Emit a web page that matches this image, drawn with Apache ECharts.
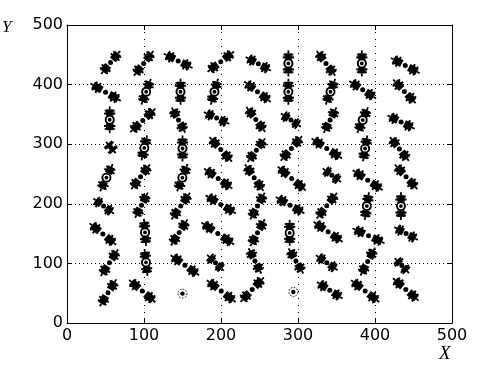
<!DOCTYPE html>
<html>
<head>
<meta charset="utf-8">
<script src="https://cdn.jsdelivr.net/npm/echarts@6/dist/echarts.min.js"></script>
<style>html,body{margin:0;padding:0;background:#fff}#c{width:498px;height:370px}</style>
</head>
<body>
<div id="c"></div>
<script>
// glyph centres (data units), row by row from top
const centerX = [
  56.6, 99.5, 144.4, 199.7, 248.5, 287.5, 336.3, 382.9, 439.3,
  50.1, 102.8, 147.4, 191.5, 247.4, 287.5, 342.2, 384.0, 438.2,
  55.5, 98.4, 144.8, 194.3, 245.2, 290.8, 341.7, 384.0, 433.9,
  57.0, 100.4, 150.0, 199.7, 245.9, 291.4, 337.4, 387.2, 431.7,
  51.2, 95.6, 149.8, 196.4, 243.1, 291.8, 343.9, 390.5, 440.4,
  47.5, 96.7, 147.7, 199.7, 247.4, 289.7, 337.4, 389.4, 433.7,
  46.6, 101.3, 145.7, 195.8, 247.4, 289.2, 339.1, 391.6, 440.4,
  55.1, 102.6, 153.1, 192.8, 244.1, 297.3, 337.4, 390.5, 434.9,
  53.3, 97.8, 150.0, 200.3, 240.5, 294.0, 341.3, 387.2, 440.0
];
const centerY = [
  437.0, 435.6, 439.8, 438.4, 434.8, 435.6, 435.6, 435.6, 432.0,
  387.2, 388.0, 388.0, 388.0, 388.0, 388.0, 388.0, 391.4, 388.6,
  341.0, 339.9, 340.4, 343.8, 341.5, 340.4, 340.4, 340.4, 337.1,
  294.5, 293.7, 292.8, 291.2, 290.0, 292.8, 292.8, 292.8, 292.0,
  243.8, 245.2, 243.8, 242.4, 243.8, 242.4, 248.0, 239.6, 245.2,
  196.2, 197.6, 196.2, 199.0, 196.2, 197.6, 196.8, 196.2, 196.2,
  149.2, 152.0, 152.0, 150.1, 151.5, 151.2, 152.9, 146.4, 150.1,
  101.1, 101.6, 96.9, 101.1, 104.1, 104.1, 101.1, 103.0, 96.3,
  50.7, 53.5, 49.3, 53.5, 56.0, 52.1, 54.9, 53.5, 56.3
];
// half orientation vectors (data units)
const halfU = [
  9.8, 10.2, 15.2, 14.1, 13.0, 0, 9.8, 0, 15.2,
  16.3, 4.8, 0, 3.7, 14.1, 0, 4.8, 14.1, 11.9,
  0, 13.4, 6.9, 13.0, 9.8, 9.8, 6.5, 5.4, 14.1,
  3.7, 2.8, 0, 11.9, 9.1, 11.3, 16.5, 2.2, 9.8,
  6.5, 9.8, 5.4, 15.2, 9.8, 15.2, 8.7, 16.3, 11.9,
  10.2, 6.5, 9.8, 16.3, 7.6, 15.2, 10.8, 2.2, 0,
  14.1, -1.1, 8.7, 18.0, 7.6, 0, 15.6, 17.3, 11.9,
  9.1, -1.5, 15.2, 8.0, 6.5, 7.6, 10.8, 7.6, 6.5,
  8.7, 14.1, 0, 15.6, 12.4, 0, 13.4, 15.2, 13.7
];
const halfV = [
  15.4, 16.8, -9.8, 14.0, -9.2, 16.8, -16.8, 16.8, -10.4,
  -12.0, 16.8, 16.8, 16.8, -14.0, 16.8, 16.8, -11.8, -16.2,
  17.4, 16.2, -16.8, -7.8, -16.8, -8.4, 16.8, 16.8, -9.0,
  -5.6, 16.0, 16.8, -16.8, 15.7, 16.8, -14.0, 16.8, -16.0,
  18.2, 16.8, 18.2, -14.0, -18.2, -16.8, -8.4, -14.0, -16.8,
  -9.8, 16.8, 18.2, -12.6, 18.2, -11.2, 17.6, 18.2, 18.2,
  -14.8, 17.6, 17.6, -15.7, 18.2, 16.8, -14.0, -10.4, -8.4,
  18.2, 17.6, -14.0, -9.8, -16.8, -16.8, -9.8, 19.0, -9.0,
  18.2, -15.4, 0, -15.4, 16.8, 0, -11.2, -15.4, -15.4
];
const xTicks = [0, 100, 200, 300, 400, 500];
const yTicks = [0, 100, 200, 300, 400, 500];

const data = centerX.map((x, i) => [x, centerY[i], halfU[i], halfV[i]]);

function renderItem(params, api) {
  const cx = api.value(0), cy = api.value(1), hx = api.value(2), hy = api.value(3);
  const c = api.coord([cx, cy]);
  const p2 = api.coord([cx + hx, cy + hy]);
  const dx = p2[0] - c[0], dy = p2[1] - c[1];
  const h = Math.hypot(dx, dy);
  const ch = [];
  const blk = '#000';
  if (h < 1) {
    ch.push({type: 'circle', shape: {cx: c[0], cy: c[1], r: 4.5}, style: {fill: null, stroke: blk, lineWidth: 1, lineDash: [1.5, 1.5]}});
    ch.push({type: 'circle', shape: {cx: c[0], cy: c[1], r: 2.2}, style: {fill: blk}});
    return {type: 'group', children: ch};
  }
  const ux = dx / h, uy = dy / h, nx = -uy, ny = ux;
  const ring = Math.abs(ux) < 0.42;
  const w = ring ? 7.5 : 7.5;
  const P = (t, n) => [c[0] + ux * t + nx * n, c[1] + uy * t + ny * n];
  const seg = (a, b, lw) => ({type: 'line', shape: {x1: a[0], y1: a[1], x2: b[0], y2: b[1]}, style: {stroke: blk, lineWidth: lw, lineCap: 'butt'}});
  [1, -1].forEach(s => {
    const a = (ring ? 0.4 : 0.3) * h;
    ch.push(seg(P(s * a, 0), P(s * h, 0), w));
    ch.push(seg(P(s * h, 0), P(s * (h + 3), 0), 1.8));
    ch.push(seg(P(s * 0.6 * h, 5.6), P(s * 0.6 * h, -5.6), 2));
    ch.push(seg(P(s * 0.88 * h, 5), P(s * 0.88 * h, -5), 1.8));
  });
  if (ring) {
    ch.push({type: 'circle', shape: {cx: c[0], cy: c[1], r: 5}, style: {fill: blk}});
    ch.push({type: 'circle', shape: {cx: c[0], cy: c[1], r: 3.1}, style: {fill: '#fff'}});
    ch.push({type: 'circle', shape: {cx: c[0], cy: c[1], r: 1.9}, style: {fill: blk}});
  } else {
    ch.push({type: 'circle', shape: {cx: c[0], cy: c[1], r: 2.5}, style: {fill: blk}});
  }
  return {type: 'group', children: ch};
}

const labelStyle = {color: '#000', fontSize: 16, fontFamily: 'DejaVu Sans'};
const chart = echarts.init(document.getElementById('c'), null, {renderer: 'canvas'});
chart.setOption({
  animation: false,
  backgroundColor: '#fff',
  grid: {left: 67, right: 46, top: 25, bottom: 47, containLabel: false},
  xAxis: [
    {type: 'value', min: xTicks[0], max: xTicks[xTicks.length - 1], interval: xTicks[1] - xTicks[0], position: 'bottom',
     axisLine: {show: true, onZero: false, lineStyle: {color: '#000', width: 1}},
     axisTick: {show: true, inside: true, length: 5, lineStyle: {color: '#000'}},
     axisLabel: Object.assign({margin: 5}, labelStyle),
     splitLine: {show: true, lineStyle: {color: '#000', width: 1, type: [1, 6]}}},
    {type: 'value', min: xTicks[0], max: xTicks[xTicks.length - 1], interval: xTicks[1] - xTicks[0], position: 'top',
     axisLine: {show: true, onZero: false, lineStyle: {color: '#000', width: 1}},
     axisTick: {show: true, inside: true, length: 5, lineStyle: {color: '#000'}},
     axisLabel: {show: false}, splitLine: {show: false}}
  ],
  yAxis: [
    {type: 'value', min: yTicks[0], max: yTicks[yTicks.length - 1], interval: yTicks[1] - yTicks[0], position: 'left',
     axisLine: {show: true, onZero: false, lineStyle: {color: '#000', width: 1}},
     axisTick: {show: true, inside: true, length: 5, lineStyle: {color: '#000'}},
     axisLabel: Object.assign({margin: 4}, labelStyle),
     splitLine: {show: true, lineStyle: {color: '#000', width: 1, type: [1, 3]}}},
    {type: 'value', min: yTicks[0], max: yTicks[yTicks.length - 1], interval: yTicks[1] - yTicks[0], position: 'right',
     axisLine: {show: true, onZero: false, lineStyle: {color: '#000', width: 1}},
     axisTick: {show: true, inside: true, length: 5, lineStyle: {color: '#000'}},
     axisLabel: {show: false}, splitLine: {show: false}}
  ],
  graphic: [
    {type: 'text', left: 2, top: 19, style: {text: 'Y', fill: '#000', font: 'italic 17px "Liberation Serif"'}},
    {type: 'text', left: 439, top: 344, style: {text: 'X', fill: '#000', font: 'italic 19px "Liberation Serif"'}}
  ],
  series: [{
    type: 'custom', xAxisIndex: 0, yAxisIndex: 0,
    renderItem: renderItem,
    data: data
  }]
});
</script>
</body>
</html>
